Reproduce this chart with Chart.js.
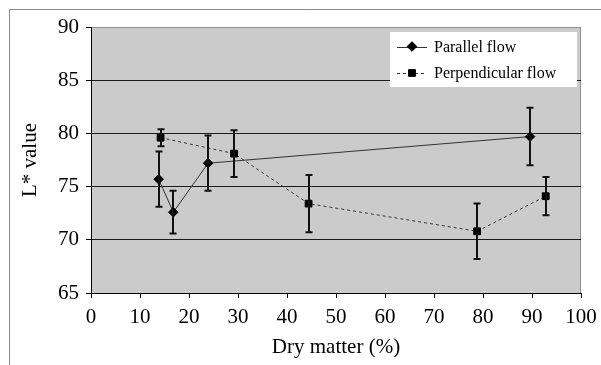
<!DOCTYPE html>
<html>
<head>
<meta charset="utf-8">
<script src="https://cdn.jsdelivr.net/npm/chart.js@4"></script>
<style>
  html, body { margin: 0; padding: 0; background: #fff; }
  #wrap { width: 601px; height: 365px; }
</style>
</head>
<body>
<div id="wrap"><canvas id="lchart" width="601" height="365"></canvas></div>
<script>
// dry matter (%) and L* values
var parallelX = [13.8, 16.8, 23.9, 89.6];
var parallelY = [75.7, 72.6, 77.2, 79.7];
var parallelErr = [2.6, 2.0, 2.6, 2.7];

var perpX = [14.2, 29.2, 44.4, 78.8, 92.8];
var perpY = [79.6, 78.1, 73.4, 70.8, 74.1];
var perpErr = [0.8, 2.2, 2.7, 2.6, 1.8];

var seriesNames = ["Parallel flow", "Perpendicular flow"];
var xTitle = "Dry matter (%)";
var yTitle = "L* value";

function toPoints(xs, ys) {
  var pts = [];
  for (var i = 0; i < xs.length; i++) {
    pts.push({ x: xs[i], y: ys[i] });
  }
  return pts;
}

var serif = "'Liberation Serif', 'Times New Roman', serif";

// grey plot background + outer frame
var backgroundPlugin = {
  id: 'bg',
  beforeDraw: function (chart) {
    var ctx = chart.ctx, a = chart.chartArea;
    ctx.save();
    ctx.fillStyle = '#ffffff';
    ctx.fillRect(0, 0, chart.width, chart.height);
    ctx.strokeStyle = '#8a8a8a';
    ctx.lineWidth = 1;
    ctx.beginPath();
    ctx.moveTo(9.5, chart.height);
    ctx.lineTo(9.5, 9.5);
    ctx.lineTo(chart.width, 9.5);
    ctx.stroke();
    ctx.fillStyle = '#cbcbcb';
    ctx.fillRect(a.left, a.top, a.right - a.left, a.bottom - a.top);
    ctx.strokeStyle = '#8f8f8f';
    ctx.beginPath();
    ctx.moveTo(a.left, a.top + 0.5);
    ctx.lineTo(a.right - 0.5, a.top + 0.5);
    ctx.lineTo(a.right - 0.5, a.bottom);
    ctx.stroke();
    ctx.restore();
  }
};

// vertical error bars with caps
var errorBarPlugin = {
  id: 'errbars',
  afterDatasetsDraw: function (chart) {
    var ctx = chart.ctx;
    var yScale = chart.scales.y;
    var errs = [parallelErr, perpErr];
    ctx.save();
    ctx.strokeStyle = '#111';
    ctx.lineWidth = 2;
    chart.data.datasets.forEach(function (ds, i) {
      var meta = chart.getDatasetMeta(i);
      meta.data.forEach(function (pt, j) {
        var v = ds.data[j].y;
        var top = yScale.getPixelForValue(v + errs[i][j]);
        var bot = yScale.getPixelForValue(v - errs[i][j]);
        var x = Math.round(pt.x);
        ctx.beginPath();
        ctx.moveTo(x, top);
        ctx.lineTo(x, bot);
        ctx.moveTo(x - 3.5, top);
        ctx.lineTo(x + 3.5, top);
        ctx.moveTo(x - 3.5, bot);
        ctx.lineTo(x + 3.5, bot);
        ctx.stroke();
      });
    });
    ctx.restore();
  }
};

// white legend box inside the plot, top right
var legendBoxPlugin = {
  id: 'legendbox',
  afterDraw: function (chart) {
    var ctx = chart.ctx, a = chart.chartArea;
    var w = 187, h = 55;
    var lx = a.right - 4 - w, ly = a.top + 5;
    ctx.save();
    ctx.fillStyle = '#ffffff';
    ctx.fillRect(lx, ly, w, h);
    chart.data.datasets.forEach(function (ds, i) {
      var cy = ly + 14.5 + i * 26.5;
      ctx.strokeStyle = ds.borderColor;
      ctx.lineWidth = 1;
      ctx.setLineDash(ds.borderDash || []);
      ctx.beginPath();
      ctx.moveTo(lx + 7, Math.round(cy) + 0.5);
      ctx.lineTo(lx + 37, Math.round(cy) + 0.5);
      ctx.stroke();
      ctx.setLineDash([]);
      ctx.fillStyle = '#000';
      ctx.strokeStyle = '#000';
      Chart.helpers.drawPoint(ctx, {
        pointStyle: ds.pointStyle,
        radius: ds.pointRadius,
        borderWidth: 1
      }, lx + 22, cy);
      ctx.fillStyle = '#000';
      ctx.font = "16px " + serif;
      ctx.textBaseline = 'middle';
      ctx.textAlign = 'left';
      ctx.fillText(ds.label, lx + 44, cy + 1);
    });
    ctx.restore();
  }
};

var ctx = document.getElementById("lchart");

new Chart(ctx, {
  type: 'line',
  data: {
    datasets: [
      {
        label: seriesNames[0],
        data: toPoints(parallelX, parallelY),
        borderColor: '#333',
        borderWidth: 1,
        pointStyle: 'rectRot',
        pointRadius: 4.8,
        pointBackgroundColor: '#000',
        pointBorderColor: '#000',
        fill: false
      },
      {
        label: seriesNames[1],
        data: toPoints(perpX, perpY),
        borderColor: '#333',
        borderWidth: 1,
        borderDash: [3, 3],
        pointStyle: 'rect',
        pointRadius: 4.8,
        pointBackgroundColor: '#000',
        pointBorderColor: '#000',
        fill: false
      }
    ]
  },
  options: {
    responsive: false,
    animation: false,
    layout: { padding: { top: 27, right: 20, left: 0, bottom: 0 } },
    plugins: {
      legend: { display: false },
      tooltip: { enabled: false }
    },
    scales: {
      x: {
        type: 'linear',
        min: 0,
        max: 100,
        afterFit: function (scale) {
          scale.height = 72;
          scale.paddingLeft = 0;
          scale.paddingRight = 0;
        },
        ticks: {
          stepSize: 10,
          color: '#000',
          padding: 7,
          maxRotation: 0,
          font: { family: serif, size: 21 }
        },
        grid: {
          drawOnChartArea: false,
          tickLength: 5,
          color: '#000'
        },
        border: { color: '#000', width: 1 },
        title: {
          display: true,
          text: xTitle,
          color: '#000',
          font: { family: serif, size: 21, lineHeight: 1.2 },
          padding: { top: 0, bottom: 5 }
        }
      },
      y: {
        min: 65,
        max: 90,
        afterFit: function (scale) {
          scale.width = 91;
          scale.paddingTop = 0;
          scale.paddingBottom = 0;
        },
        ticks: {
          stepSize: 5,
          color: '#000',
          padding: 7,
          font: { family: serif, size: 21 }
        },
        grid: {
          tickLength: 5,
          color: function (c) { return c.tick && c.tick.value === 90 ? '#8f8f8f' : '#1a1a1a'; },
          tickColor: '#000'
        },
        border: { color: '#000', width: 1 },
        title: {
          display: true,
          text: yTitle,
          color: '#000',
          font: { family: serif, size: 21, lineHeight: 1.2 },
          padding: { top: 18, bottom: 0 }
        }
      }
    }
  },
  plugins: [backgroundPlugin, errorBarPlugin, legendBoxPlugin]
});
</script>
</body>
</html>
